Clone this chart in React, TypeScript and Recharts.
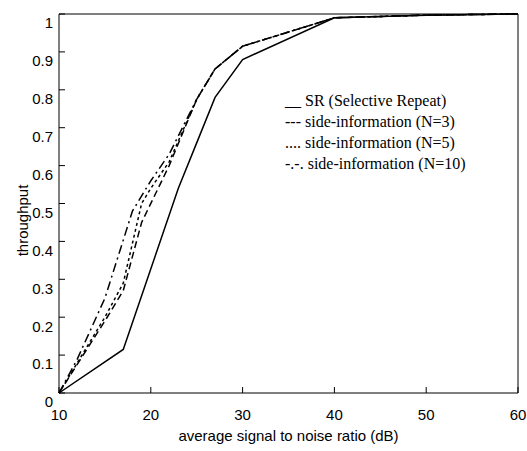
import { LineChart, Line, XAxis, YAxis, Legend, Label } from "recharts";

// throughput vs. average SNR (dB)
const snrSR = [10, 17, 23, 25, 27, 30, 40, 50, 60];
const tpSR = [0, 0.115, 0.54, 0.66, 0.78, 0.88, 0.99, 0.997, 1.0];

const snrN3 = [10, 15, 17, 19, 21, 22, 25, 27, 30, 40, 50, 60];
const tpN3 = [0, 0.19, 0.27, 0.45, 0.55, 0.6, 0.775, 0.855, 0.915, 0.99, 0.997, 1.0];

const snrN5 = [10, 15, 17, 19, 20, 22, 25, 27, 30, 40, 50, 60];
const tpN5 = [0, 0.2, 0.29, 0.5, 0.54, 0.61, 0.775, 0.855, 0.915, 0.99, 0.997, 1.0];

const snrN10 = [10, 12, 15, 18, 20, 22, 25, 27, 30, 40, 50, 60];
const tpN10 = [0, 0.09, 0.25, 0.48, 0.56, 0.63, 0.775, 0.855, 0.915, 0.99, 0.997, 1.0];

const seriesNames = [
  "SR (Selective Repeat)",
  "side-information (N=3)",
  "side-information (N=5)",
  "side-information (N=10)",
];
const legendMarks = ["__", "---", "....", "-.-."];

const xTicks = [10, 20, 30, 40, 50, 60];
const yTicks = [0, 0.1, 0.2, 0.3, 0.4, 0.5, 0.6, 0.7, 0.8, 0.9, 1];

const toRows = (xs: number[], ys: number[]) =>
  xs.map((snr, i) => ({ snr, tp: ys[i] }));

const series = [
  { name: seriesNames[0], data: toRows(snrSR, tpSR), dash: undefined },
  { name: seriesNames[1], data: toRows(snrN3, tpN3), dash: "7 4" },
  { name: seriesNames[2], data: toRows(snrN5, tpN5), dash: "3 3" },
  { name: seriesNames[3], data: toRows(snrN10, tpN10), dash: "9 4 2 4" },
];

const sans = "'Liberation Sans', Arial, sans-serif";
const serif = "'Liberation Serif', 'Times New Roman', serif";

function LegendBox({ payload }: any) {
  const items = (payload || [])
    .filter((p: any) => seriesNames.includes(p.value))
    .sort((a: any, b: any) => seriesNames.indexOf(a.value) - seriesNames.indexOf(b.value));
  return (
    <div style={{ fontFamily: serif, fontSize: 16, color: "#000", lineHeight: "21px" }}>
      {items.map((p: any) => (
        <div key={p.value} style={{ whiteSpace: "nowrap" }}>
          {legendMarks[seriesNames.indexOf(p.value)]} {p.value}
        </div>
      ))}
    </div>
  );
}

function YTitle({ viewBox }: any) {
  const x = viewBox.x + 3;
  const y = viewBox.y + viewBox.height / 2 + 17;
  return (
    <text
      x={x}
      y={y}
      transform={`rotate(-90 ${x} ${y})`}
      textAnchor="middle"
      dominantBaseline="central"
      style={{ fontSize: 15, fill: "#000", fontFamily: sans }}
    >
      throughput
    </text>
  );
}

export default function App() {
  const tickStyle = { fontSize: 15, fill: "#000", fontFamily: sans };
  return (
    <div style={{ position: "absolute", left: 0, top: 0, background: "#fff" }}>
      <LineChart
        width={527}
        height={451}
        margin={{ top: 13, right: 8, left: 19, bottom: 8 }}
      >
        <XAxis
          dataKey="snr"
          type="number"
          domain={[10, 60]}
          ticks={xTicks}
          allowDuplicatedCategory={false}
          height={50}
          stroke="#000"
          tickSize={-6}
          tickMargin={22}
          tick={tickStyle}
          label={{
            value: "average signal to noise ratio (dB)",
            position: "insideBottom",
            offset: 2,
            style: { fontSize: 15, fill: "#000", fontFamily: sans },
          }}
        />
        <XAxis
          xAxisId="top"
          orientation="top"
          dataKey="snr"
          type="number"
          domain={[10, 60]}
          ticks={xTicks}
          allowDuplicatedCategory={false}
          height={1}
          stroke="#000"
          tickSize={-6}
          tick={false}
        />
        <YAxis
          type="number"
          domain={[0, 1]}
          ticks={yTicks}
          width={40}
          stroke="#000"
          tickSize={-6}
          tickMargin={12}
          tick={{ ...tickStyle, dy: 9 }}
        >
          <Label content={<YTitle />} position="insideLeft" />
        </YAxis>
        <YAxis
          yAxisId="right"
          orientation="right"
          type="number"
          domain={[0, 1]}
          ticks={yTicks}
          width={1}
          stroke="#000"
          tickSize={-6}
          tick={false}
        />
        <Legend
          layout="horizontal"
          align="center"
          verticalAlign="middle"
          content={<LegendBox />}
          wrapperStyle={{ left: 285, top: 90, width: "auto" }}
        />
        {series.map((s) => (
          <Line
            key={s.name}
            data={s.data}
            dataKey="tp"
            name={s.name}
            type="linear"
            stroke="#000"
            strokeWidth={1.5}
            strokeDasharray={s.dash}
            dot={false}
            isAnimationActive={false}
          />
        ))}
        {/* invisible series so the top and right frame axes get drawn */}
        <Line
          xAxisId="top"
          yAxisId="right"
          data={series[0].data}
          dataKey="tp"
          name="frame"
          stroke="none"
          legendType="none"
          dot={false}
          activeDot={false}
          isAnimationActive={false}
        />
      </LineChart>
    </div>
  );
}
